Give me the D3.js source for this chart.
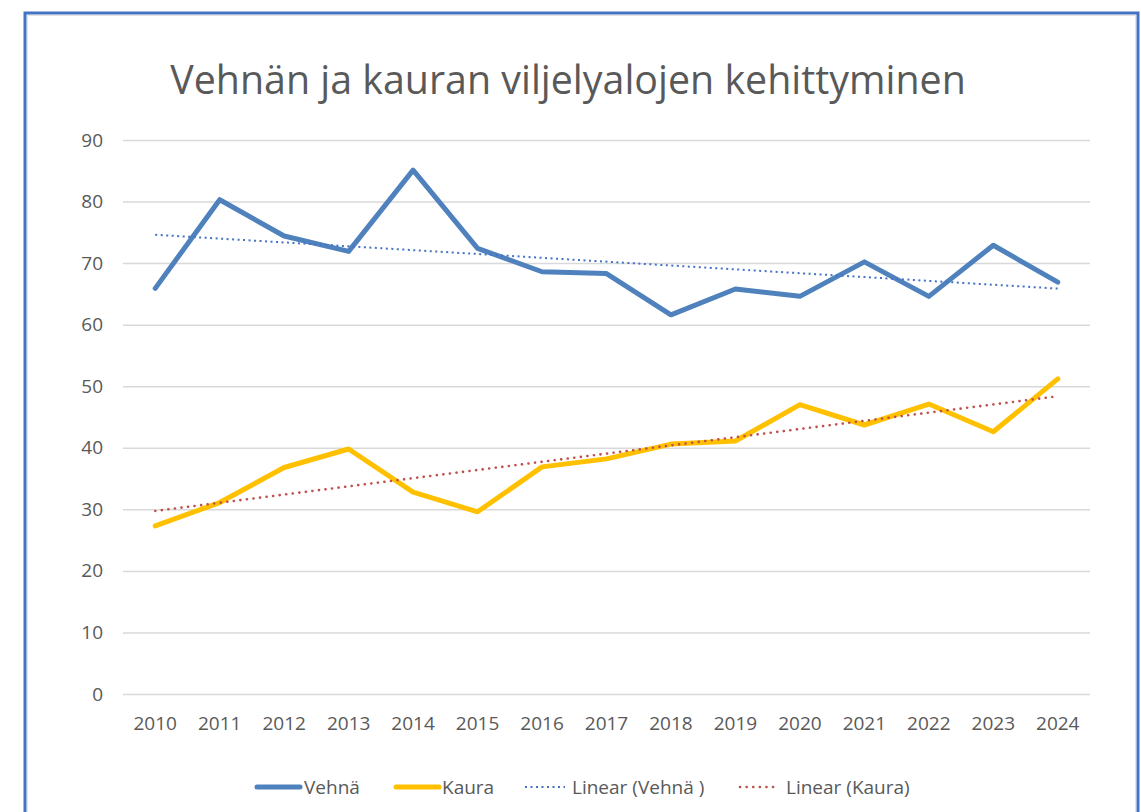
<!DOCTYPE html>
<html>
<head>
<meta charset="utf-8">
<script src="https://cdn.jsdelivr.net/npm/d3@7"></script>
<style>
  body { margin: 0; background: #ffffff; }
  svg { display: block; font-family: "Open Sans", sans-serif; }
</style>
</head>
<body>
<svg id="chart" width="1141" height="812"></svg>
<script>
// data
var years = ["2010","2011","2012","2013","2014","2015","2016","2017","2018","2019","2020","2021","2022","2023","2024"];
var vehna = [65.9, 80.3, 74.4, 71.9, 85.1, 72.4, 68.6, 68.3, 61.6, 65.8, 64.6, 70.2, 64.6, 72.9, 66.9];
var kaura = [27.3, 31.1, 36.8, 39.8, 32.8, 29.6, 36.9, 38.2, 40.6, 41.1, 47.0, 43.7, 47.1, 42.6, 51.2];
var yTicks = [0, 10, 20, 30, 40, 50, 60, 70, 80, 90];
var titleText = "Vehnän ja kauran viljelyalojen kehittyminen";

var svg = d3.select("#chart");
var plot = {left: 123, right: 1090, top: 140, bottom: 694};
var textColor = "#595959";

// frame around the chart
svg.append("rect")
    .attr("x", 25).attr("y", 13)
    .attr("width", 1113).attr("height", 830)
    .attr("fill", "none")
    .attr("stroke", "#4472C4")
    .attr("stroke-width", 3);
svg.append("rect")
    .attr("x", 27.5).attr("y", 15.5)
    .attr("width", 1108).attr("height", 830)
    .attr("fill", "none")
    .attr("stroke", "#e3e3e3")
    .attr("stroke-width", 1);

var xScale = d3.scaleBand().domain(years).range([plot.left, plot.right]);
var yScale = d3.scaleLinear().domain([0, 90]).range([plot.bottom, plot.top]);
function cx(d) { return xScale(d) + xScale.bandwidth() / 2; }

// title
var title = svg.append("text")
    .attr("x", 568).attr("y", 94)
    .attr("text-anchor", "middle")
    .attr("fill", textColor)
    .style("font-size", "36px")
    .text(titleText);
var tw = title.node().getComputedTextLength();
title.style("font-size", (36 * 796 / tw) + "px");

// gridlines + y labels
var yAxis = svg.append("g")
    .attr("transform", "translate(" + plot.left + ",0)")
    .call(d3.axisLeft(yScale).tickValues(yTicks).tickSize(-(plot.right - plot.left)).tickPadding(20));
yAxis.select(".domain").remove();
yAxis.selectAll(".tick line").attr("stroke", "#d9d9d9").attr("stroke-width", 1.5);
yAxis.selectAll(".tick text")
    .attr("fill", textColor)
    .style("font-size", "19px")
    .style("font-family", "'Open Sans', sans-serif");

// x labels
var xAxis = svg.append("g")
    .attr("transform", "translate(0," + plot.bottom + ")")
    .call(d3.axisBottom(xScale).tickSize(0).tickPadding(23));
xAxis.select(".domain").remove();
xAxis.selectAll(".tick text")
    .attr("fill", textColor)
    .style("font-size", "19px")
    .style("font-family", "'Open Sans', sans-serif");

// linear trend (least squares) like the spreadsheet trendline
function trend(vals) {
    var n = vals.length;
    var mx = d3.mean(vals, function(d, i) { return i; });
    var my = d3.mean(vals);
    var num = 0, den = 0;
    vals.forEach(function(v, i) { num += (i - mx) * (v - my); den += (i - mx) * (i - mx); });
    var b = num / den, a = my - b * mx;
    return [ {x: years[0], y: a}, {x: years[n - 1], y: a + b * (n - 1)} ];
}

var line = d3.line()
    .x(function(d) { return cx(d.x); })
    .y(function(d) { return yScale(d.y); });

function toPts(vals) { return vals.map(function(v, i) { return {x: years[i], y: v}; }); }

var series = [
    {name: "Vehnä", pts: toPts(vehna), color: "#4F81BD", width: 5, dash: null, cap: "round"},
    {name: "Kaura", pts: toPts(kaura), color: "#FFC000", width: 5, dash: null, cap: "round"},
    {name: "Linear (Vehnä )", pts: trend(vehna), color: "#4472C4", width: 2, dash: "2,3.5", cap: "butt"},
    {name: "Linear (Kaura)", pts: trend(kaura), color: "#C0504D", width: 2.6, dash: "0.1,6.5", cap: "round"}
];

series.forEach(function(s) {
    svg.append("path")
        .datum(s.pts)
        .attr("d", line)
        .attr("fill", "none")
        .attr("stroke", s.color)
        .attr("stroke-width", s.width)
        .attr("stroke-linejoin", "round")
        .attr("stroke-linecap", s.cap)
        .attr("stroke-dasharray", s.dash);
});

// legend
var legendY = 787;
var legendPos = [
    {x1: 257, x2: 300, tx: 304},
    {x1: 396, x2: 439, tx: 442},
    {x1: 525, x2: 565, tx: 572},
    {x1: 740, x2: 779, tx: 786}
];
var leg = svg.append("g");
series.forEach(function(s, i) {
    var p = legendPos[i];
    leg.append("line")
        .attr("x1", p.x1).attr("x2", p.x2)
        .attr("y1", legendY).attr("y2", legendY)
        .attr("stroke", s.color)
        .attr("stroke-width", s.width)
        .attr("stroke-linecap", s.cap)
        .attr("stroke-dasharray", s.dash);
    leg.append("text")
        .attr("x", p.tx).attr("y", legendY)
        .attr("dy", "0.35em")
        .attr("fill", textColor)
        .style("font-size", "19px")
        .text(s.name);
});
</script>
</body>
</html>
